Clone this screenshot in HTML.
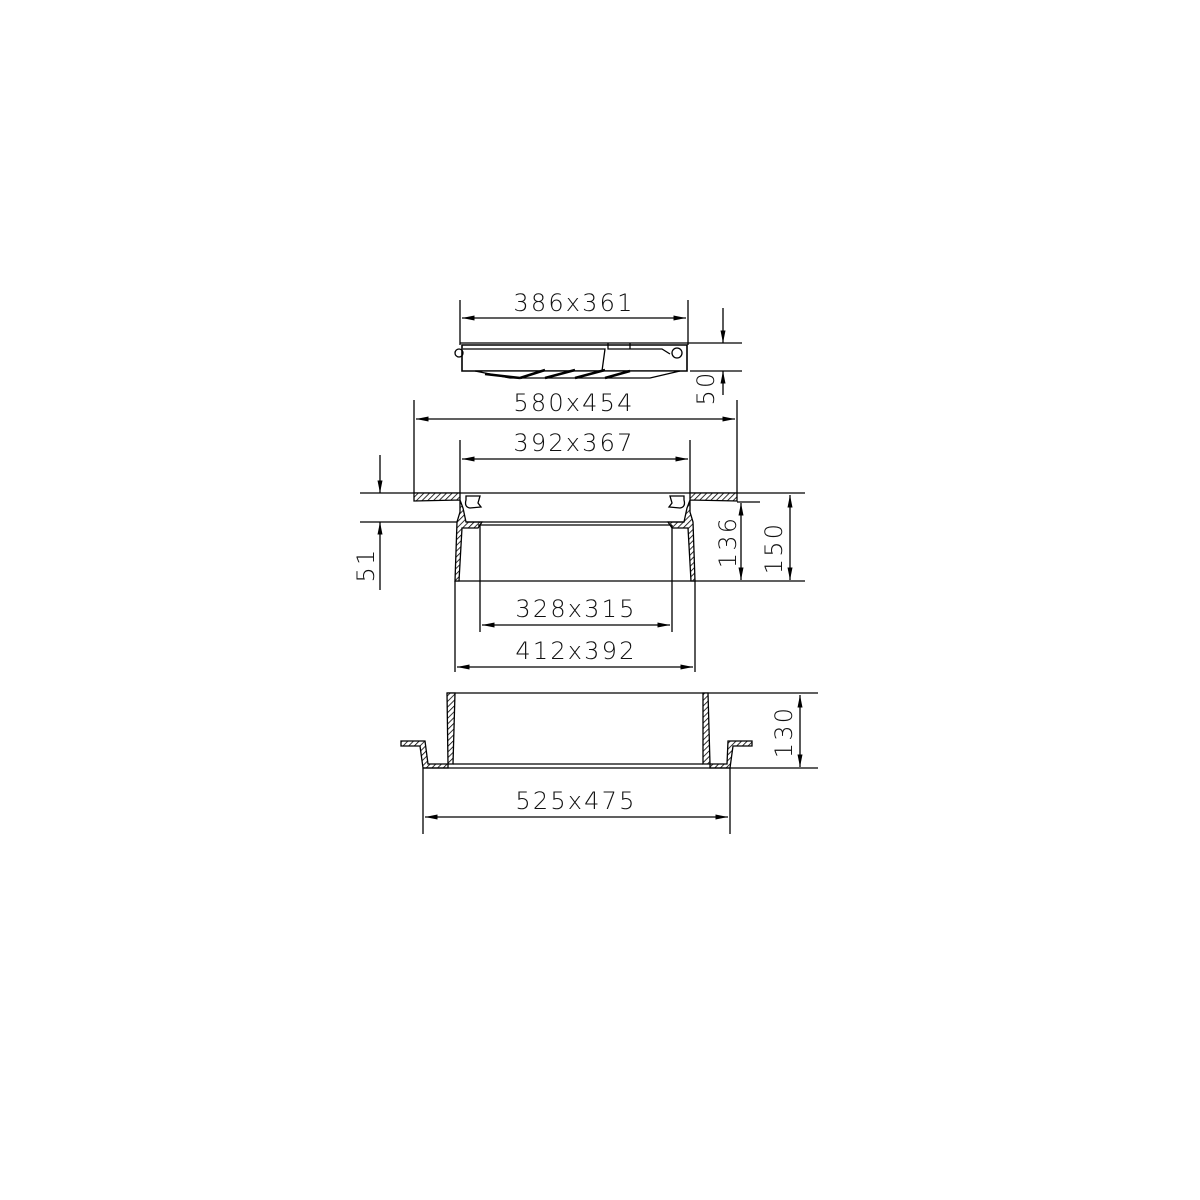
<!DOCTYPE html>
<html><head><meta charset="utf-8"><style>
html,body{margin:0;padding:0;background:#fff;}
svg{display:block}
text{font-family:"DejaVu Sans","Liberation Sans",sans-serif;font-size:24px;fill:#111;font-weight:300;letter-spacing:2.2px}
</style></head><body>
<svg width="1200" height="1200" viewBox="0 0 1200 1200" xmlns="http://www.w3.org/2000/svg">
<defs>
<pattern id="h" patternUnits="userSpaceOnUse" width="4" height="4" patternTransform="rotate(45)">
<rect width="4" height="4" fill="#fff"/><line x1="0" y1="0" x2="0" y2="4" stroke="#000" stroke-width="1.6"/></pattern>
<marker id="a" viewBox="0 0 10 4" refX="10" refY="2" markerWidth="14" markerHeight="5" markerUnits="userSpaceOnUse" orient="auto-start-reverse"><path d="M0,0 L10,2 L0,4z" fill="#000"/></marker>
</defs>
<g stroke="#000" stroke-width="1.3" fill="none">
<line x1="460" y1="300" x2="460" y2="345"/><line x1="688" y1="300" x2="688" y2="345"/>
<line x1="462" y1="318" x2="686" y2="318" marker-start="url(#a)" marker-end="url(#a)"/>
<line x1="460" y1="343" x2="742" y2="343"/><line x1="690" y1="371" x2="742" y2="371"/>
<line x1="723" y1="308" x2="723" y2="343" marker-end="url(#a)"/>
<line x1="723" y1="395" x2="723" y2="371" marker-end="url(#a)"/>
<path d="M462,345 L687,345 L687,371 L462,371 Z" stroke-width="1.6"/>
<path d="M463,349 L605,349 L602,371 M608,343 L608,349 L630,349 L630,343 M630,349 L662,349 L670,354"/>
<circle cx="459" cy="353" r="4"/><circle cx="677" cy="353" r="5"/>
<path d="M475,371 L510,378 L650,378 L680,371 Z" fill="#fff"/>
<path d="M485,374 L520,378 M520,378 L545,370 M545,378 L575,370 M575,378 L605,370 M605,378 L630,371" stroke-width="2.5"/>
<line x1="414" y1="400" x2="414" y2="493"/><line x1="737" y1="400" x2="737" y2="493"/>
<line x1="416" y1="419" x2="735" y2="419" marker-start="url(#a)" marker-end="url(#a)"/>
<line x1="460" y1="440" x2="460" y2="493"/><line x1="690" y1="440" x2="690" y2="493"/>
<line x1="462" y1="459" x2="688" y2="459" marker-start="url(#a)" marker-end="url(#a)"/>
<line x1="360" y1="493" x2="805" y2="493"/>
<line x1="360" y1="522" x2="460" y2="522"/>
<line x1="455" y1="581" x2="805" y2="581"/>
<line x1="737" y1="502" x2="760" y2="502"/>
<path d="M414,493 L460,493 L460,512 L457,522 L455,581 L459,581 L462,528 L478,528 L482,522 L466,522 L463,508 L460,500 L414,501 Z" fill="url(#h)"/>
<path d="M737,493 L690,493 L690,512 L693,522 L695,581 L691,581 L688,528 L672,528 L668,522 L684,522 L687,508 L690,500 L737,501 Z" fill="url(#h)"/>
<line x1="466" y1="522" x2="684" y2="522"/><line x1="478" y1="525" x2="672" y2="525"/>
<line x1="480" y1="525" x2="480" y2="632"/><line x1="672" y1="525" x2="672" y2="632"/>
<line x1="455" y1="581" x2="455" y2="672"/><line x1="695" y1="581" x2="695" y2="672"/>
<path d="M466,496 L480,496 L478,503 L481,507 L470,508 Q464,507 466,500 Z"/>
<path d="M670,496 L684,496 L684,500 Q686,507 680,508 L669,507 L672,503 Z"/>
<line x1="482" y1="625" x2="670" y2="625" marker-start="url(#a)" marker-end="url(#a)"/>
<line x1="457" y1="667" x2="693" y2="667" marker-start="url(#a)" marker-end="url(#a)"/>
<line x1="380" y1="455" x2="380" y2="493" marker-end="url(#a)"/>
<line x1="380" y1="590" x2="380" y2="522" marker-end="url(#a)"/>
<line x1="741" y1="503" x2="741" y2="580" marker-start="url(#a)" marker-end="url(#a)"/>
<line x1="790" y1="495" x2="790" y2="580" marker-start="url(#a)" marker-end="url(#a)"/>
<line x1="447" y1="693" x2="818" y2="693"/><line x1="730" y1="768" x2="818" y2="768"/>
<path d="M447,693 L455,693 L453,764 L448,764 Z" fill="url(#h)"/>
<path d="M703,693 L708,693 L710,764 L703,764 Z" fill="url(#h)"/>
<path d="M401,741 L425,741 L428,764 L448,764 L448,768 L423,768 L420,746 L401,746 Z" fill="url(#h)"/>
<path d="M752,741 L728,741 L727,764 L710,764 L710,768 L730,768 L733,746 L752,746 Z" fill="url(#h)"/>
<line x1="453" y1="764" x2="703" y2="764"/><line x1="423" y1="768" x2="730" y2="768"/>
<line x1="423" y1="768" x2="423" y2="834"/><line x1="730" y1="768" x2="730" y2="834"/>
<line x1="425" y1="817" x2="728" y2="817" marker-start="url(#a)" marker-end="url(#a)"/>
<line x1="800" y1="695" x2="800" y2="767" marker-start="url(#a)" marker-end="url(#a)"/>
</g>
<g text-anchor="middle">
<text x="574" y="311">386x361</text>
<text x="574" y="411">580x454</text>
<text x="574" y="451">392x367</text>
<text x="576" y="617">328x315</text>
<text x="576" y="659">412x392</text>
<text x="576" y="809">525x475</text>
<text transform="translate(714,388) rotate(-90)">50</text>
<text transform="translate(374,565) rotate(-90)">51</text>
<text transform="translate(736,542) rotate(-90)">136</text>
<text transform="translate(782,548) rotate(-90)">150</text>
<text transform="translate(792,732) rotate(-90)">130</text>
</g>
</svg>
</body></html>
